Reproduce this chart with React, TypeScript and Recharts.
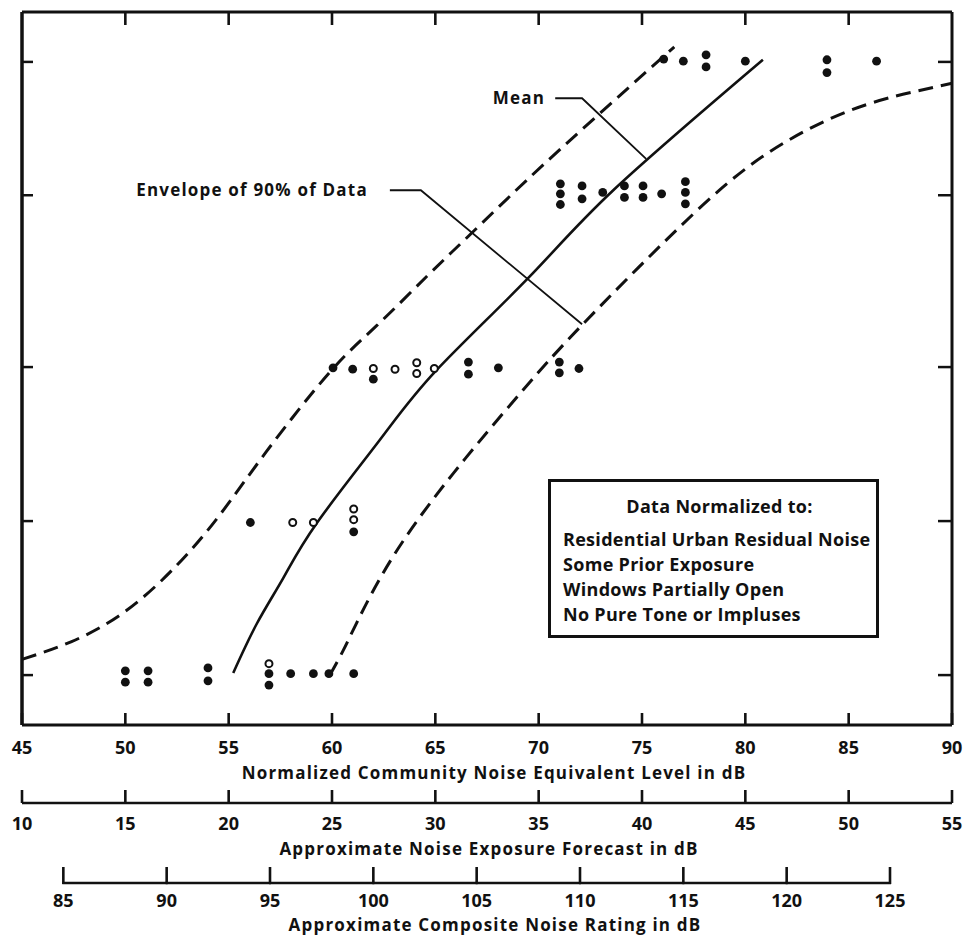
import React from 'react';
import { ComposedChart, Line, Scatter, XAxis, YAxis, ReferenceDot } from 'recharts';

// x values are Normalized CNEL in dB, y values are the reaction levels (0..10 scale, unlabeled)
const CNEL_TICKS = [45, 50, 55, 60, 65, 70, 75, 80, 85, 90];
const NEF_TICKS = [10, 15, 20, 25, 30, 35, 40, 45, 50, 55];
const CNR_TICKS = [85, 90, 95, 100, 105, 110, 115, 120, 125];
const LEVEL_TICKS = [0.7, 2.86, 5.02, 7.43, 9.3];

const filledDots = [
  { x: 50, y: 0.76 }, { x: 50, y: 0.6 },
  { x: 51.1, y: 0.76 }, { x: 51.1, y: 0.6 },
  { x: 54, y: 0.8 }, { x: 54, y: 0.62 },
  { x: 56.95, y: 0.72 }, { x: 56.95, y: 0.56 },
  { x: 58, y: 0.72 }, { x: 59.1, y: 0.72 }, { x: 59.85, y: 0.72 }, { x: 61.05, y: 0.72 },
  { x: 56.05, y: 2.84 }, { x: 61.05, y: 2.71 },
  { x: 60.05, y: 5.01 }, { x: 61, y: 4.99 }, { x: 62, y: 4.85 },
  { x: 66.6, y: 5.09 }, { x: 66.6, y: 4.92 }, { x: 68.05, y: 5.01 },
  { x: 71, y: 5.09 }, { x: 71, y: 4.94 }, { x: 71.95, y: 5.0 },
  { x: 71.05, y: 7.59 }, { x: 71.05, y: 7.45 }, { x: 71.05, y: 7.3 },
  { x: 72.1, y: 7.56 }, { x: 72.1, y: 7.38 }, { x: 73.1, y: 7.47 },
  { x: 74.15, y: 7.56 }, { x: 74.15, y: 7.4 },
  { x: 75.05, y: 7.56 }, { x: 75.05, y: 7.4 }, { x: 75.95, y: 7.45 },
  { x: 77.1, y: 7.62 }, { x: 77.1, y: 7.47 }, { x: 77.1, y: 7.31 },
  { x: 76.05, y: 9.34 }, { x: 77, y: 9.31 }, { x: 78.1, y: 9.4 }, { x: 78.1, y: 9.23 },
  { x: 80, y: 9.31 }, { x: 83.95, y: 9.33 }, { x: 83.95, y: 9.15 }, { x: 86.35, y: 9.31 },
];

const openDots = [
  { x: 56.95, y: 0.86 },
  { x: 58.1, y: 2.84 }, { x: 59.1, y: 2.84 }, { x: 61.05, y: 3.03 }, { x: 61.05, y: 2.88 },
  { x: 62, y: 5.0 }, { x: 63.05, y: 4.99 }, { x: 64.1, y: 5.08 }, { x: 64.1, y: 4.93 }, { x: 64.95, y: 5.0 },
];

const meanCurve = [
  { x: 55.22, y: 0.73 }, { x: 56.36, y: 1.42 }, { x: 57.64, y: 2.06 }, { x: 59.26, y: 2.83 },
  { x: 62.32, y: 4.0 }, { x: 65.07, y: 4.98 }, { x: 69.5, y: 6.27 }, { x: 73.61, y: 7.5 },
  { x: 80.85, y: 9.33 },
];

const upperEnvelope = [
  { x: 45, y: 0.92 }, { x: 47.4, y: 1.17 }, { x: 49.98, y: 1.59 }, { x: 52.49, y: 2.24 },
  { x: 54.58, y: 2.95 }, { x: 56.84, y: 3.84 }, { x: 59.9, y: 4.95 }, { x: 62.16, y: 5.6 },
  { x: 64.58, y: 6.29 }, { x: 66.76, y: 6.9 }, { x: 69.42, y: 7.64 }, { x: 72.89, y: 8.56 },
  { x: 76.56, y: 9.51 },
];

const lowerEnvelope = [
  { x: 59.9, y: 0.7 }, { x: 60.55, y: 1.05 }, { x: 61.19, y: 1.43 }, { x: 62.97, y: 2.37 },
  { x: 65.87, y: 3.53 }, { x: 69.1, y: 4.65 }, { x: 72.0, y: 5.58 }, { x: 76.84, y: 6.99 },
  { x: 80.87, y: 7.98 }, { x: 84.9, y: 8.6 }, { x: 88.13, y: 8.88 }, { x: 90, y: 9.0 },
];

const meanLeader = [{ x: 70.8, y: 8.79 }, { x: 72.1, y: 8.79 }, { x: 75.2, y: 7.94 }];
const envelopeLeader = [{ x: 62.8, y: 7.5 }, { x: 64.3, y: 7.5 }, { x: 72.1, y: 5.62 }];

const boxLines = [
  'Residential Urban Residual Noise',
  'Some Prior Exposure',
  'Windows Partially Open',
  'No Pure Tone or Impluses',
];

const W = 964;
const H = 937;
const M = { top: 11, right: 11, bottom: 0, left: 21 };
const PLOT_TOP = 12;
const PX_PER_DB = (W - 22 - 12) / 45;
const FONT = '"Open Sans", sans-serif';
const INK = '#111';

const labelText = (x: number, y: number, v: any) => (
  <text x={x} y={y} textAnchor="middle" fontFamily={FONT} fontWeight={700} fontSize={18} fill={INK}>
    {v}
  </text>
);

const vTick = (x: number, y1: number, y2: number) => (
  <path d={`M${x},${y1}V${y2}`} stroke={INK} strokeWidth={2.6} fill="none" />
);

// bottom CNEL ticks also mark the top edge of the frame
const CnelTick = (props: any) => {
  const { x, y, payload } = props;
  const inner = payload.value > 45 && payload.value < 90;
  return (
    <g>
      {vTick(x, y, y - 12)}
      {inner && vTick(x, PLOT_TOP, PLOT_TOP + 13)}
      {labelText(x, y + 29, payload.value)}
    </g>
  );
};

const NefTick = (props: any) => {
  const { x, y, payload } = props;
  return (
    <g>
      {vTick(x, y, y - 13)}
      {labelText(x, y + 27, payload.value)}
    </g>
  );
};

const CnrTick = (props: any) => {
  const { x, y, payload } = props;
  const last = payload.value >= 125;
  return (
    <g>
      {vTick(x, y + 1, y - 16)}
      {!last && <path d={`M${x - 1},${y}H${x + 5 * PX_PER_DB + 1}`} stroke={INK} strokeWidth={2.5} fill="none" />}
      {labelText(x, y + 24, payload.value)}
    </g>
  );
};

const LeftTick = ({ x, y }: any) => <line x1={x} x2={x + 11} y1={y} y2={y} stroke={INK} strokeWidth={2.5} />;
const RightTick = ({ x, y }: any) => <line x1={x} x2={x - 14} y1={y} y2={y} stroke={INK} strokeWidth={2.5} />;

const FilledDot = ({ cx, cy }: any) => <circle cx={cx} cy={cy} r={4.4} fill={INK} />;
const OpenDot = ({ cx, cy }: any) => <circle cx={cx} cy={cy} r={3.5} fill="#fff" stroke={INK} strokeWidth={2} />;
const NoShape = () => <g />;

const titleStyle = { fontFamily: FONT, fontWeight: 700, fontSize: 17, fill: INK, letterSpacing: 1.2 };

// invisible helpers so the secondary scales get laid out
const nefAnchors = NEF_TICKS.map((v) => ({ x: v, y: 0 }));
const cnrAnchors = CNR_TICKS.map((v) => ({ x: v, y: 0 }));
const topAnchors = CNEL_TICKS.map((v) => ({ x: v, y: 0 }));

export default function App() {
  return (
    <div style={{ position: 'absolute', left: 0, top: 0, width: W, height: H, background: '#fff' }}>
      <ComposedChart width={W} height={H} margin={M}>
        <XAxis
          xAxisId="a_cnel"
          dataKey="x"
          type="number"
          domain={[45, 90]}
          ticks={CNEL_TICKS}
          interval={0}
          height={78}
          tickSize={0}
          tickMargin={0}
          axisLine={{ stroke: INK, strokeWidth: 3 }}
          tickLine={false}
          tick={(p: any) => <CnelTick {...p} />}
          label={{ value: 'Normalized Community Noise Equivalent Level in dB', position: 'insideBottom', offset: 24, dx: 7, ...titleStyle }}
        />
        <XAxis
          xAxisId="b_nef"
          dataKey="x"
          type="number"
          domain={[10, 55]}
          ticks={NEF_TICKS}
          interval={0}
          height={80}
          tickSize={0}
          tickMargin={0}
          axisLine={{ stroke: INK, strokeWidth: 2.5 }}
          tickLine={false}
          tick={(p: any) => <NefTick {...p} />}
          label={{ value: 'Approximate Noise Exposure Forecast in dB', position: 'insideBottom', offset: 28, dx: 2, ...titleStyle }}
        />
        <XAxis
          xAxisId="c_cnr"
          dataKey="x"
          type="number"
          domain={[83, 128]}
          ticks={CNR_TICKS}
          interval={0}
          height={54}
          tickSize={0}
          tickMargin={0}
          axisLine={false}
          tickLine={false}
          tick={(p: any) => <CnrTick {...p} />}
          label={{ value: 'Approximate Composite Noise Rating in dB', position: 'insideBottom', offset: 6, dx: 8, ...titleStyle }}
        />
        <XAxis
          xAxisId="top"
          dataKey="x"
          orientation="top"
          type="number"
          domain={[45, 90]}
          height={1}
          axisLine={{ stroke: INK, strokeWidth: 3 }}
          tickLine={false}
          tick={false}
        />
        <YAxis
          yAxisId="left"
          dataKey="y"
          type="number"
          domain={[0, 10]}
          ticks={LEVEL_TICKS}
          interval={0}
          width={1}
          tickSize={0}
          tickMargin={0}
          axisLine={{ stroke: INK, strokeWidth: 3.5 }}
          tickLine={false}
          tick={(p: any) => <LeftTick {...p} />}
        />
        <YAxis
          yAxisId="right"
          dataKey="y"
          orientation="right"
          type="number"
          domain={[0, 10]}
          ticks={LEVEL_TICKS}
          interval={0}
          width={1}
          tickSize={0}
          tickMargin={0}
          axisLine={{ stroke: INK, strokeWidth: 3 }}
          tickLine={false}
          tick={(p: any) => <RightTick {...p} />}
        />

        <Scatter xAxisId="b_nef" yAxisId="right" data={nefAnchors} shape={<NoShape />} isAnimationActive={false} />
        <Scatter xAxisId="c_cnr" yAxisId="right" data={cnrAnchors} shape={<NoShape />} isAnimationActive={false} />
        <Scatter xAxisId="top" yAxisId="right" data={topAnchors} shape={<NoShape />} isAnimationActive={false} />

        <Line xAxisId="a_cnel" yAxisId="left" data={upperEnvelope} dataKey="y" type="natural" stroke={INK} strokeWidth={3} strokeDasharray="15 8" dot={false} isAnimationActive={false} />
        <Line xAxisId="a_cnel" yAxisId="left" data={meanCurve} dataKey="y" type="natural" stroke={INK} strokeWidth={2.6} dot={false} isAnimationActive={false} />
        <Line xAxisId="a_cnel" yAxisId="left" data={lowerEnvelope} dataKey="y" type="natural" stroke={INK} strokeWidth={3} strokeDasharray="15 8" dot={false} isAnimationActive={false} />
        <Line xAxisId="a_cnel" yAxisId="left" data={meanLeader} dataKey="y" type="linear" stroke={INK} strokeWidth={1.8} dot={false} isAnimationActive={false} />
        <Line xAxisId="a_cnel" yAxisId="left" data={envelopeLeader} dataKey="y" type="linear" stroke={INK} strokeWidth={1.8} dot={false} isAnimationActive={false} />

        <Scatter xAxisId="a_cnel" yAxisId="left" data={filledDots} shape={<FilledDot />} isAnimationActive={false} />
        <Scatter xAxisId="a_cnel" yAxisId="left" data={openDots} shape={<OpenDot />} isAnimationActive={false} />

        <ReferenceDot xAxisId="a_cnel" yAxisId="left" x={meanLeader[0].x} y={meanLeader[0].y} r={0} fill="none" stroke="none"
          label={{ value: 'Mean', position: 'left', offset: 10, ...titleStyle }} />
        <ReferenceDot xAxisId="a_cnel" yAxisId="left" x={envelopeLeader[0].x} y={envelopeLeader[0].y} r={0} fill="none" stroke="none"
          label={{ value: 'Envelope of 90% of Data', position: 'left', offset: 22, ...titleStyle }} />
      </ComposedChart>

      <div
        style={{
          position: 'absolute', left: 548, top: 479, width: 325, height: 153,
          border: '3px solid #111', background: '#fff', fontFamily: FONT, fontWeight: 700,
          fontSize: 18, letterSpacing: 0.3, color: INK, boxSizing: 'content-box', whiteSpace: 'nowrap',
        }}
      >
        <div style={{ textAlign: 'center', marginTop: 13, marginLeft: 12, lineHeight: '22px' }}>Data Normalized to:</div>
        <div style={{ marginTop: 10, marginLeft: 12, lineHeight: '25px' }}>
          {boxLines.map((t) => (
            <div key={t}>{t}</div>
          ))}
        </div>
      </div>
    </div>
  );
}
